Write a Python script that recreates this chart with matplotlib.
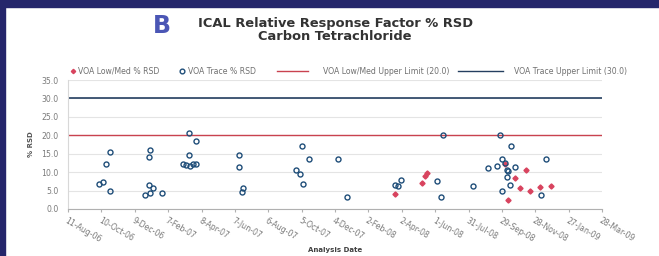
import matplotlib
matplotlib.use("Agg")
import matplotlib.pyplot as plt
from matplotlib.patches import Rectangle
from matplotlib.lines import Line2D
import numpy as np
import pandas as pd

# ── Données ──────────────────────────────────────────────────────────────────

trace_dates = [
    "2006-10-06", "2006-10-13", "2006-10-19", "2006-10-25", "2006-10-25",
    "2007-01-05", "2007-01-04", "2007-01-04", "2007-01-11", "2007-01-05",
    "2006-12-27", "2007-01-27",
    "2007-03-17", "2007-03-29", "2007-03-16", "2007-03-05", "2007-03-12",
    "2007-03-18", "2007-03-23", "2007-03-30",
    "2007-06-14", "2007-06-15", "2007-06-21", "2007-06-19",
    "2007-10-05", "2007-10-19", "2007-09-24", "2007-10-02", "2007-10-08",
    "2007-12-10", "2007-12-25",
    "2008-03-20", "2008-03-27", "2008-04-01",
    "2008-06-04", "2008-06-11", "2008-06-16", "2008-08-08",
    "2008-09-04", "2008-09-20", "2008-09-26", "2008-09-29", "2008-09-29",
    "2008-10-05", "2008-10-09", "2008-10-10", "2008-10-09", "2008-10-14",
    "2008-10-16", "2008-10-23", "2008-12-08", "2008-12-17",
]
trace_rsd = [
    6.9, 7.4, 12.1, 15.4, 4.8,
    15.9, 14.1, 6.5, 5.6, 4.4,
    3.8, 4.4,
    20.5, 18.5, 14.7, 12.1, 12.0,
    11.6, 12.1, 12.2,
    14.6, 11.3, 5.6, 4.7,
    17.1, 13.7, 10.6, 9.5, 6.9,
    13.6, 3.2,
    6.5, 6.3, 7.9,
    7.7, 3.3, 20.0, 6.3,
    11.2, 11.7, 20.0, 13.6, 4.9,
    12.4, 10.6, 10.2, 8.8, 6.4,
    17.1, 11.5, 3.8, 13.6,
]

lowmed_dates = [
    "2008-03-21", "2008-05-08", "2008-05-13", "2008-05-17",
    "2008-10-05", "2008-10-10", "2008-10-22", "2008-11-01",
    "2008-11-11", "2008-11-19", "2008-12-06", "2008-12-27",
]
lowmed_rsd = [4.1, 7.0, 9.0, 9.7, 12.2, 2.4, 8.5, 5.6, 10.6, 4.9, 5.9, 6.2]

lowmed_limit = 20.0
trace_limit = 30.0

x_start = "2006-08-11"
x_end = "2009-03-28"
tick_step_days = 60

# ── Style ────────────────────────────────────────────────────────────────────

RED = "#C9424F"
RED_PT = "#D8435E"
NAVY = "#243F60"
BLUE_PT = "#1F4E79"
GREY = "#7A7A7A"
NAVY_BORDER = "#25266B"
W, H = 659, 256

plt.rcParams.update({
    "font.family": "DejaVu Sans",
    "font.size": 5.6,
})

fig = plt.figure(figsize=(W / 100, H / 100), dpi=100)
fig.patch.set_facecolor("white")

# cadre de la diapo
fig.patches.append(Rectangle((0, 1 - 7 / H), 1, 7 / H, transform=fig.transFigure,
                             color=NAVY_BORDER, zorder=0))
fig.patches.append(Rectangle((0, 0), 5 / W, 1, transform=fig.transFigure,
                             color=NAVY_BORDER, zorder=0))

ax = fig.add_axes([68 / W, 1 - 209 / H, 534 / W, 129 / H])

t_dates = pd.to_datetime(trace_dates)
l_dates = pd.to_datetime(lowmed_dates)
x0 = pd.Timestamp(x_start)
x1 = pd.Timestamp(x_end)

ax.axhline(lowmed_limit, color=RED, lw=1.0, zorder=2)
ax.axhline(trace_limit, color=NAVY, lw=1.2, zorder=2)

ax.plot(l_dates, lowmed_rsd, ls="none", marker="D", ms=2.6,
        color=RED_PT, mec=RED_PT, zorder=3)
ax.plot(t_dates, trace_rsd, ls="none", marker="o", ms=3.6,
        mfc="none", mec=BLUE_PT, mew=1.0, zorder=4)

ax.set_xlim(x0, x1)
ax.set_ylim(0, 35)
ax.set_yticks(np.arange(0, 35.1, 5))
ax.yaxis.set_major_formatter(matplotlib.ticker.FormatStrFormatter("%.1f"))
ticks = pd.date_range(x0, x1, freq=f"{tick_step_days}D")
ax.set_xticks(ticks)
ax.set_xticklabels([f"{d.day}-{d:%b-%y}" for d in ticks],
                   rotation=-30, ha="left", rotation_mode="anchor")

ax.grid(True, axis="y", color="#E4E4E4", lw=0.8)
ax.set_axisbelow(True)
for s in ["top", "right"]:
    ax.spines[s].set_visible(False)
ax.spines["left"].set_color("#D8D8D8")
ax.spines["bottom"].set_color("#B0B0B0")
ax.tick_params(axis="y", length=0, pad=7, colors=GREY, labelsize=5.6)
ax.tick_params(axis="x", length=2, color="#B0B0B0", pad=3, colors=GREY, labelsize=5.6)

ax.set_ylabel("% RSD", fontsize=5, fontweight="bold", color="#555555", labelpad=5)
ax.set_xlabel("Analysis Date", fontsize=5, fontweight="bold", color="#404040", labelpad=2)

# titres
fig.text(162 / W, 1 - 26 / H, "B", fontsize=17, fontweight="bold",
         color="#4B56B5", ha="center", va="center")
fig.text(335 / W, 1 - 24 / H, "ICAL Relative Response Factor % RSD",
         fontsize=9.4, fontweight="bold", color="#333333", ha="center", va="center")
fig.text(335 / W, 1 - 37 / H, "Carbon Tetrachloride",
         fontsize=9.4, fontweight="bold", color="#333333", ha="center", va="center")

# légende (placement manuel, espacement irrégulier comme l'original)
ly = 1 - 71 / H
fig.lines.append(Line2D([73 / W], [ly], ls="none", marker="D", ms=2.2, color=RED_PT,
                        transform=fig.transFigure))
fig.lines.append(Line2D([182 / W], [ly], ls="none", marker="o", ms=3.4, mfc="none",
                        mec=BLUE_PT, mew=1.0, transform=fig.transFigure))
fig.lines.append(Line2D([277 / W, 308 / W], [ly, ly], color=RED, lw=1.0,
                        transform=fig.transFigure))
fig.lines.append(Line2D([458 / W, 503 / W], [ly, ly], color=NAVY, lw=1.0,
                        transform=fig.transFigure))
legend_labels = ["VOA Low/Med % RSD", "VOA Trace % RSD",
                 "VOA Low/Med Upper Limit (20.0)", "VOA Trace Upper Limit (30.0)"]
for xpx, lab in zip([78, 188, 323, 514], legend_labels):
    fig.text(xpx / W, ly, lab, fontsize=5.6, color="#707070", ha="left", va="center")

fig.savefig("out.png", dpi=100, facecolor="white")
